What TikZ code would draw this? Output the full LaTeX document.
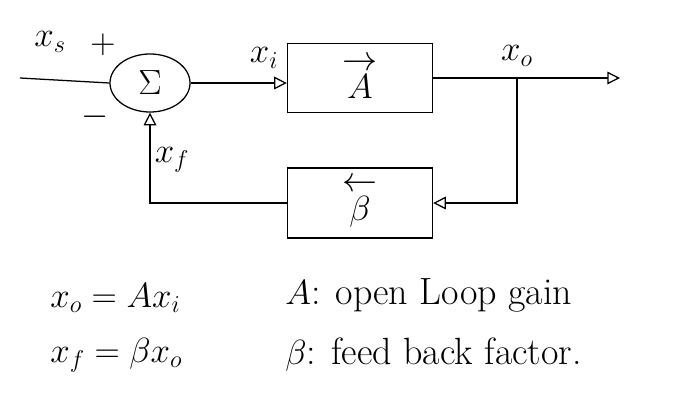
\documentclass[tikz,border=0pt]{standalone}
\usetikzlibrary{arrows.meta,shapes.geometric}
\begin{document}
\begin{tikzpicture}[x=0.025cm, y=-0.025cm, >={Triangle[open,length=9pt,width=9pt]}, line width=0.9pt, font=\fontsize{27}{30}\selectfont]
\useasboundingbox (0,0) rectangle (683,402);
% summing junction and the two blocks
\node[draw, line width=0.9pt, ellipse, inner sep=0pt, minimum width=2cm, minimum height=1.45cm] (sum) at (150,83) {$\Sigma$};
\node[draw, line width=0.9pt, align=center, inner sep=0pt, minimum width=3.625cm, minimum height=1.725cm] (amp) at (360,78) {$\rightarrow$\\[-10pt]$A$};
\node[draw, line width=0.9pt, align=center, inner sep=0pt, minimum width=3.625cm, minimum height=1.75cm] (fb) at (360,203) {$\leftarrow$\\[-10pt]$\beta$};
\coordinate (in) at (20,78);
\coordinate (out) at (620,78);
\coordinate (br) at (517,78);
% signal paths
\draw (in) -- (sum.west);
\draw[->] (sum.east) -- (sum.east -| amp.west);
\draw[->] (amp.east) -- (out);
\draw[->] (br) |- (fb.east);
\draw[->] (fb.west) -| (sum.south);
% signal labels
\node (xs) at (50,42) {$x_s$};
\node (plus) at (103,45) {$+$};
\node (minus) at (95,117) {$-$};
\node (xi) at (264,58) {$x_i$};
\node (xo) at (517,56) {$x_o$};
\node (xf) at (172,160) {$x_f$};
% relations
\node[anchor=west] (eqa) at (45,298) {$x_o = A x_i$};
\node[anchor=west] (eqb) at (45,355) {$x_f = \beta x_o$};
\node[anchor=west] (defa) at (280,295) {$A$: open Loop gain};
\node[anchor=west] (defb) at (280,355) {$\beta$: feed back factor.};
\end{tikzpicture}
\end{document}
